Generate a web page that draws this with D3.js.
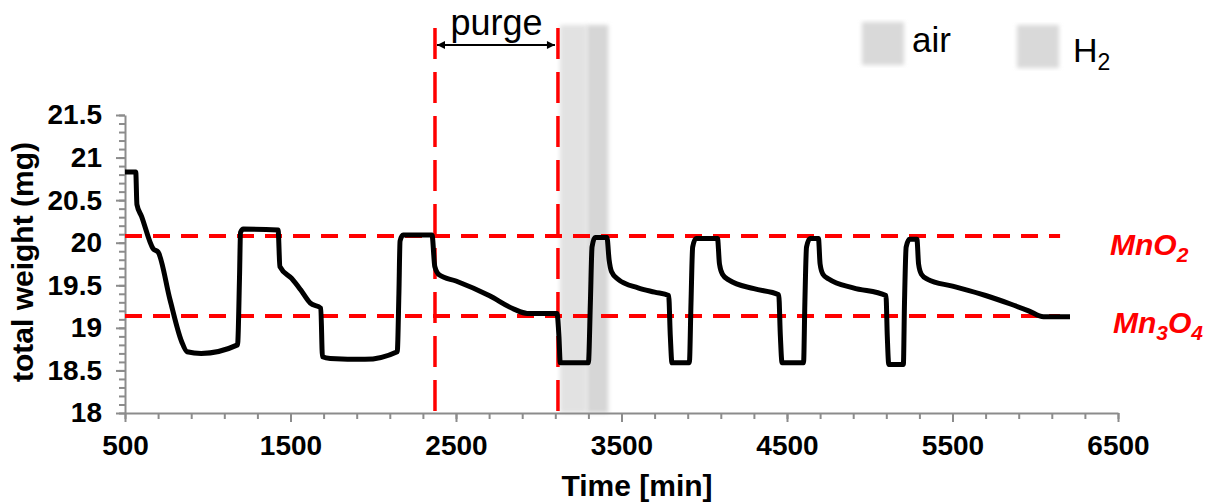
<!DOCTYPE html>
<html>
<head>
<meta charset="utf-8">
<script src="https://cdn.jsdelivr.net/npm/d3@7"></script>
<style>
  body { margin: 0; background: #fff; }
  svg { display: block; font-family: "Liberation Sans", Arial, sans-serif; }
</style>
</head>
<body>
<div id="app"></div>
<script>
// measured curve (time in min, total weight in mg)
const timeMin = [500, 565, 572, 600, 670, 700, 772, 842, 875, 960, 1180, 1192, 1198, 1215, 1425, 1436, 1507, 1560, 1620, 1683, 1693,
  1740, 1950, 2145, 2155, 2162, 2180, 2355, 2372, 2400, 2500, 2700, 2850, 2930, 3110, 3122, 3130, 3300, 3312, 3322, 3340, 3412,
  3425, 3440, 3480, 3600, 3700, 3785, 3795, 3805, 3910, 3920, 3930, 3950, 4080, 4092, 4110, 4150, 4300, 4450, 4460, 4470,
  4600, 4608, 4618, 4640, 4690, 4700, 4717, 4755, 4900, 5098, 5106, 5115, 5203, 5210, 5220, 5240, 5285, 5295, 5312, 5350,
  5500, 5700, 5850, 5960, 6050, 6210];
const weightMg = [20.83, 20.83, 20.45, 20.31, 19.93, 19.89, 19.33, 18.84, 18.72, 18.70, 18.80, 19.6, 20.12, 20.16, 20.15, 19.72, 19.58, 19.45, 19.29, 19.23, 18.66,
  18.64, 18.63, 18.72, 19.4, 20.02, 20.09, 20.09, 19.72, 19.62, 19.55, 19.38, 19.22, 19.17, 19.17, 18.9, 18.59, 18.59, 19.3, 19.95, 20.06, 20.06,
  19.80, 19.66, 19.57, 19.47, 19.42, 19.38, 18.9, 18.59, 18.59, 19.3, 19.95, 20.05, 20.05, 19.75, 19.63, 19.56, 19.46, 19.39, 18.9, 18.59,
  18.59, 19.3, 19.95, 20.05, 20.05, 19.75, 19.63, 19.57, 19.47, 19.38, 18.9, 18.57, 18.57, 19.3, 19.95, 20.04, 20.04, 19.75, 19.63, 19.57,
  19.49, 19.38, 19.28, 19.2, 19.13, 19.13];

// reference levels and purge window
const levelNames = ["MnO2", "Mn3O4"];
const levelValues = [20.08, 19.14];
const purgeLines = [2373, 3116];
const gasNames = ["air", "H2"];
const gasBands = [[3128, 3290], [3290, 3420]];

const xTicks = [500, 1500, 2500, 3500, 4500, 5500, 6500];
const yTicks = [18, 18.5, 19, 19.5, 20, 20.5, 21, 21.5];

const W = 1217, H = 504;
const x = d3.scaleLinear().domain([500, 6500]).range([125, 1118]);
const y = d3.scaleLinear().domain([18, 21.5]).range([413, 115]);

const svg = d3.select("#app").append("svg").attr("width", W).attr("height", H);

const defs = svg.append("defs");
defs.append("filter").attr("id", "soft").attr("x", "-20%").attr("y", "-5%").attr("width", "140%").attr("height", "110%")
  .append("feGaussianBlur").attr("stdDeviation", 2);
defs.append("marker").attr("id", "ah").attr("viewBox", "0 0 10 10").attr("refX", 10).attr("refY", 5)
  .attr("markerWidth", 5).attr("markerHeight", 4).attr("orient", "auto-start-reverse")
  .append("path").attr("d", "M0,0L10,5L0,10z").attr("fill", "#000");

// gas bands
const bandFill = ["#e2e2e2", "#d6d6d6"];
svg.append("g").selectAll("rect").data(gasBands).join("rect")
  .attr("x", d => x(d[0])).attr("width", d => x(d[1]) - x(d[0]))
  .attr("y", 25).attr("height", y(18) - 25)
  .attr("fill", (d, i) => bandFill[i]).attr("filter", "url(#soft)");

// axes
const axisColor = "#8c8c8c";
const yMinor = d3.range(180, 216).map(v => v / 10);
const xMinor = d3.range(500, 6501, 200);

svg.append("g").attr("transform", `translate(${x(500)},0)`)
  .call(d3.axisLeft(y).tickValues(yMinor).tickSize(6).tickFormat(""))
  .call(g => g.select(".domain").remove())
  .call(g => g.selectAll("line").attr("stroke", axisColor).attr("stroke-width", 2));
svg.append("g").attr("transform", `translate(0,${y(18)})`)
  .call(d3.axisBottom(x).tickValues(xMinor).tickSize(6).tickFormat(""))
  .call(g => g.select(".domain").remove())
  .call(g => g.selectAll("line").attr("stroke", axisColor).attr("stroke-width", 2));

svg.append("g").attr("transform", `translate(${x(500)},0)`)
  .call(d3.axisLeft(y).tickValues(yTicks).tickSize(9).tickSizeOuter(0).tickPadding(14).tickFormat(d => String(d)))
  .call(g => g.select(".domain").attr("stroke", axisColor).attr("stroke-width", 2))
  .call(g => g.selectAll("line").attr("stroke", axisColor).attr("stroke-width", 2))
  .call(g => g.selectAll("text").attr("font-size", 28).attr("font-weight", "bold").attr("fill", "#000")
    .attr("font-family", "Liberation Sans, Arial, sans-serif"));

svg.append("g").attr("transform", `translate(0,${y(18)})`)
  .call(d3.axisBottom(x).tickValues(xTicks).tickSize(9).tickSizeOuter(0).tickPadding(13).tickFormat(d => String(d)))
  .call(g => g.select(".domain").attr("stroke", axisColor).attr("stroke-width", 2))
  .call(g => g.selectAll("line").attr("stroke", axisColor).attr("stroke-width", 2))
  .call(g => g.selectAll("text").attr("font-size", 28).attr("font-weight", "bold").attr("fill", "#000")
    .attr("font-family", "Liberation Sans, Arial, sans-serif"));

// axis titles
svg.append("text").attr("x", 637).attr("y", 496).attr("text-anchor", "middle")
  .attr("font-size", 30).attr("font-weight", "bold").text("Time [min]");
svg.append("text").attr("transform", "translate(33,262) rotate(-90)").attr("text-anchor", "middle")
  .attr("font-size", 30).attr("font-weight", "bold").text("total weight (mg)");

// reference levels
svg.append("g").selectAll("line").data(levelValues).join("line")
  .attr("x1", x(500)).attr("x2", x(6150))
  .attr("y1", d => y(d)).attr("y2", d => y(d))
  .attr("stroke", "#ff0000").attr("stroke-width", 4).attr("stroke-dasharray", "17,11");

// purge lines
svg.append("g").selectAll("line").data(purgeLines).join("line")
  .attr("x1", d => x(d)).attr("x2", d => x(d))
  .attr("y1", 28).attr("y2", y(18))
  .attr("stroke", "#ff0000").attr("stroke-width", 3.5).attr("stroke-dasharray", "31,13");

// weight curve
const pts = timeMin.map((t, i) => [t, weightMg[i]]);
svg.append("path").datum(pts)
  .attr("d", d3.line().x(d => x(d[0])).y(d => y(d[1])).curve(d3.curveMonotoneX))
  .attr("fill", "none").attr("stroke", "#000").attr("stroke-width", 5)
  .attr("stroke-linejoin", "round").attr("stroke-linecap", "butt");

// purge arrow
svg.append("line").attr("x1", x(purgeLines[0]) + 2).attr("x2", x(purgeLines[1]) - 3)
  .attr("y1", 45).attr("y2", 45).attr("stroke", "#000").attr("stroke-width", 2)
  .attr("marker-start", "url(#ah)").attr("marker-end", "url(#ah)");
svg.append("text").attr("x", (x(purgeLines[0]) + x(purgeLines[1])) / 2).attr("y", 35)
  .attr("text-anchor", "middle").attr("font-size", 36).text("purge");

// level labels
const levelLabel = svg.append("g").attr("fill", "#ff0000").attr("font-weight", "bold")
  .attr("font-style", "italic").attr("font-size", 30);
const mno2 = levelLabel.append("text").attr("x", 1110).attr("y", y(levelValues[0]) + 19);
mno2.append("tspan").text("MnO");
mno2.append("tspan").attr("font-size", 21).attr("dy", 7).text("2");
const mn3o4 = levelLabel.append("text").attr("x", 1113).attr("y", y(levelValues[1]) + 17);
mn3o4.append("tspan").text("Mn");
mn3o4.append("tspan").attr("font-size", 21).attr("dy", 7).text("3");
mn3o4.append("tspan").attr("dy", -7).text("O");
mn3o4.append("tspan").attr("font-size", 21).attr("dy", 7).text("4");

// legend
const legendX = [862, 1017];
const legendY = [22, 25];
const legend = svg.append("g");
legend.selectAll("rect").data(gasNames).join("rect")
  .attr("x", (d, i) => legendX[i]).attr("y", (d, i) => legendY[i])
  .attr("width", 42).attr("height", 43).attr("fill", "#d9d9d9").attr("filter", "url(#soft)");
legend.append("text").attr("x", legendX[0] + 50).attr("y", 52).attr("font-size", 35).text(gasNames[0]);
const h2 = legend.append("text").attr("x", legendX[1] + 56).attr("y", 62).attr("font-size", 34);
h2.append("tspan").text("H");
h2.append("tspan").attr("font-size", 23).attr("dy", 8).text("2");
</script>
</body>
</html>
